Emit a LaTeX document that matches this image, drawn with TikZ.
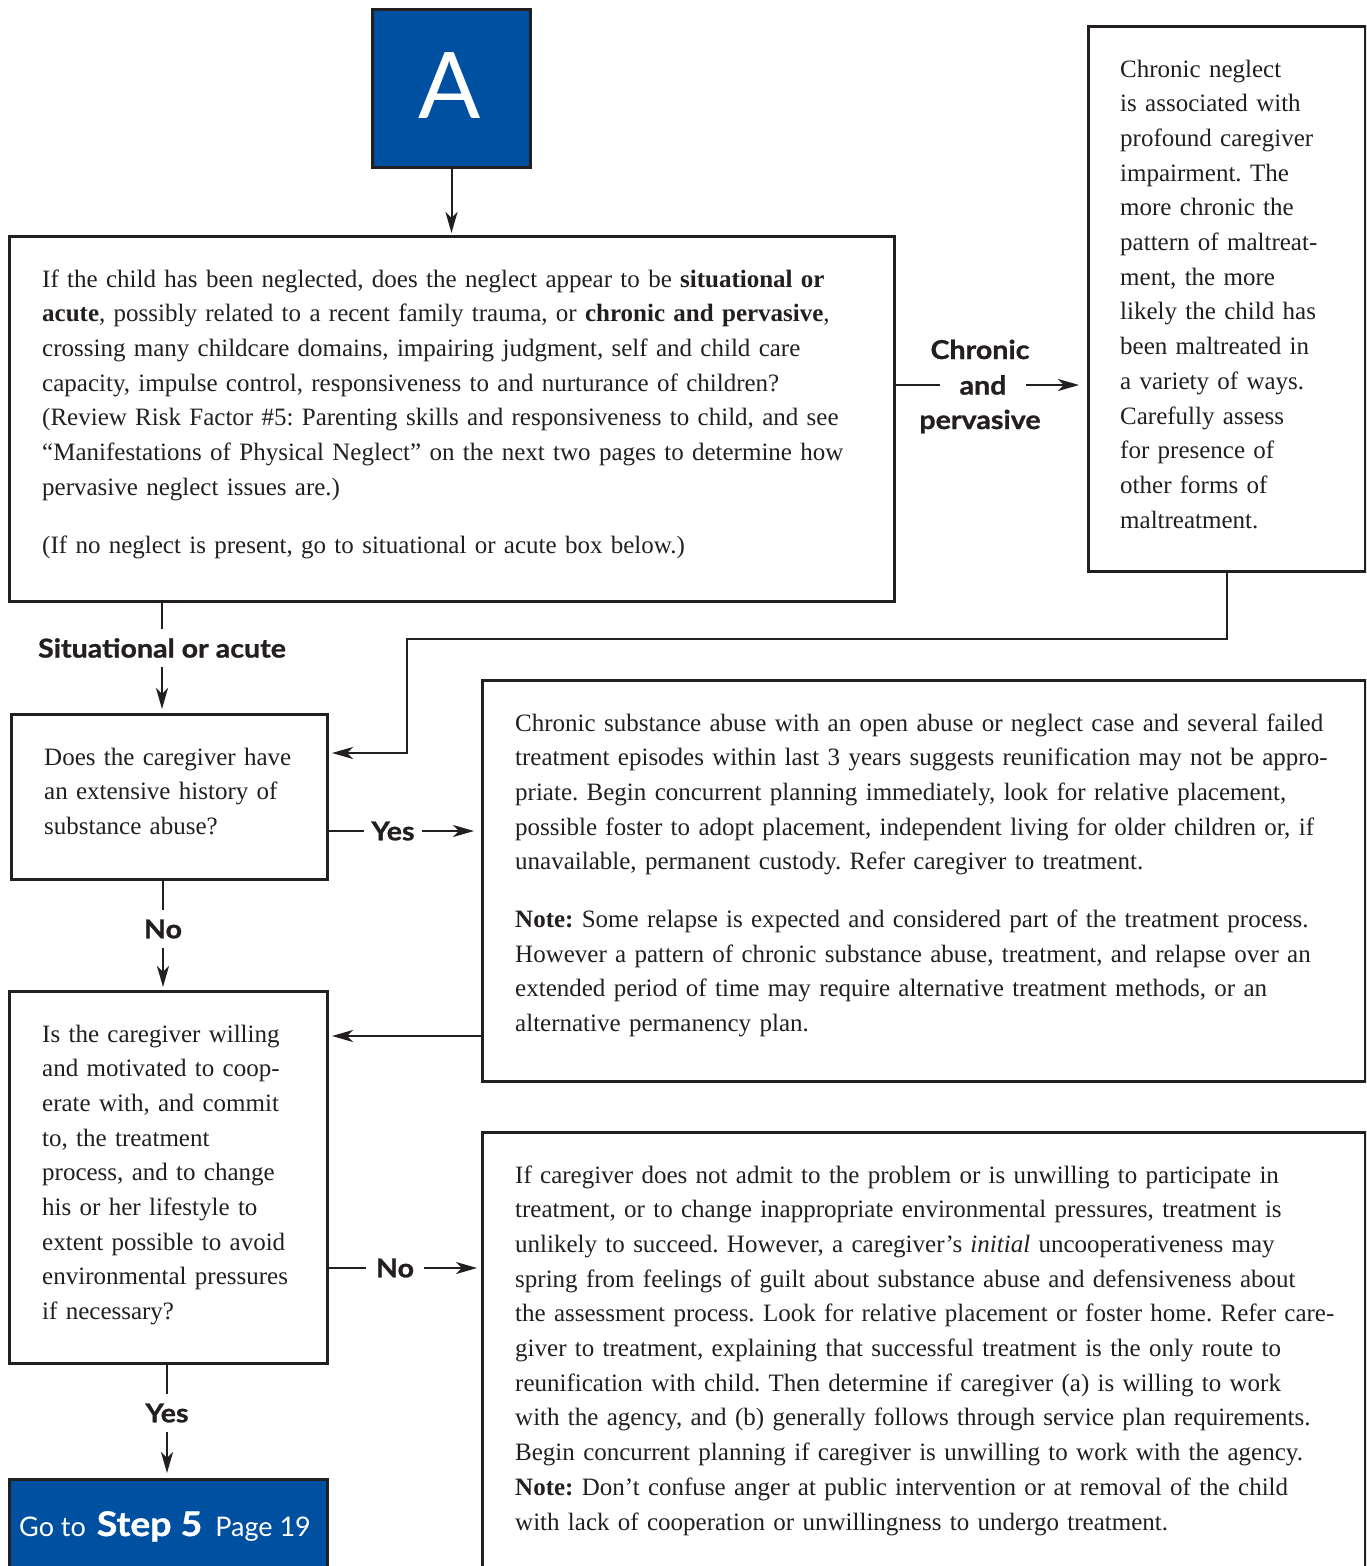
\documentclass[tikz,border=0pt]{standalone}
\usepackage{fontspec}
\setmainfont{Liberation Serif}
\newfontfamily\labelfont[FakeStretch=1.1, BoldFeatures={FakeBold=1}]{Lato}
\newfontfamily\plainsans{Lato}
\usetikzlibrary{arrows.meta}
\definecolor{ink}{RGB}{35,31,32}
\definecolor{stepblue}{RGB}{0,80,162}
\frenchspacing
\begin{document}
\begin{tikzpicture}[x=1pt,y=-1pt,
  box/.style={draw=ink, line width=3pt, rectangle, anchor=north west, inner sep=0pt},
  body/.style={anchor=base west, inner sep=0pt, text width=#1, align=left, text=ink,
    font=\fontsize{25}{34.7}\selectfont},
  lbl/.style={text=ink, font=\labelfont\bfseries\fontsize{26}{35}\selectfont,
    inner xsep=8pt, inner ysep=9pt},
  link/.style={draw=ink, line width=2pt},
  arr/.style={link, -{Stealth[length=21pt,width=12pt,inset=6pt]}},
]
\useasboundingbox (0,0) rectangle (1366,1566);
\clip (0,0) rectangle (1366,1566);
\fill[white] (0,0) rectangle (1366,1566);

% ---- boxes ----
\node[box, fill=stepblue, minimum width=158pt, minimum height=158pt] (A) at (371,8) {};
\node[text=white, font=\plainsans\fontsize{92}{92}\selectfont, anchor=base] (Aletter) at (450,118) {A};

\node[box, minimum width=885pt, minimum height=365pt] (main) at (8,235) {};
\node[box, minimum width=277pt, minimum height=545pt] (chronic) at (1087,25) {};
\node[box, minimum width=316pt, minimum height=165pt] (hist) at (10,713) {};
\node[box, minimum width=883pt, minimum height=401pt] (subst) at (481,679) {};
\node[box, minimum width=318pt, minimum height=372pt] (willing) at (8,990) {};
\node[box, minimum width=883pt, minimum height=500pt] (unwill) at (481,1131) {};
\node[box, fill=stepblue, minimum width=318pt, minimum height=100pt] (goto) at (8,1478) {};

% ---- box texts ----
\node[body=880pt] (mainTxt) at (42,287) {If the child has been neglected, does the neglect appear to be \textbf{situational or}\\
\textbf{acute}, possibly related to a recent family trauma, or \textbf{chronic and pervasive},\\
crossing many childcare domains, impairing judgment, self and child care\\
capacity, impulse control, responsiveness to and nurturance of children?\\
(Review Risk Factor \#5: Parenting skills and responsiveness to child, and see\\
``Manifestations of Physical Neglect'' on the next two pages to determine how\\
pervasive neglect issues are.)\\[24pt]
(If no neglect is present, go to situational or acute box below.)};

\node[body=250pt] (chronicTxt) at (1120,77) {Chronic neglect\\
is associated with\\
profound caregiver\\
impairment. The\\
more chronic the\\
pattern of maltreat-\\
ment, the more\\
likely the child has\\
been maltreated in\\
a variety of ways.\\
Carefully assess\\
for presence of\\
other forms of\\
maltreatment.};

\node[body=290pt] (histTxt) at (44,765) {Does the caregiver have\\
an extensive history of\\
substance abuse?};

\node[body=880pt] (substTxt) at (515,731) {Chronic substance abuse with an open abuse or neglect case and several failed\\
treatment episodes within last 3 years suggests reunification may not be appro-\\
priate. Begin concurrent planning immediately, look for relative placement,\\
possible foster to adopt placement, independent living for older children or, if\\
unavailable, permanent custody. Refer caregiver to treatment.\\[23pt]
\textbf{Note:} Some relapse is expected and considered part of the treatment process.\\
However a pattern of chronic substance abuse, treatment, and relapse over an\\
extended period of time may require alternative treatment methods, or an\\
alternative permanency plan.};

\node[body=290pt] (willingTxt) at (42,1042) {Is the caregiver willing\\
and motivated to coop-\\
erate with, and commit\\
to, the treatment\\
process, and to change\\
his or her lifestyle to\\
extent possible to avoid\\
environmental pressures\\
if necessary?};

\node[body=880pt] (unwillTxt) at (515,1183) {If caregiver does not admit to the problem or is unwilling to participate in\\
treatment, or to change inappropriate environmental pressures, treatment is\\
unlikely to succeed. However, a caregiver's \textit{initial} uncooperativeness may\\
spring from feelings of guilt about substance abuse and defensiveness about\\
the assessment process. Look for relative placement or foster home. Refer care-\\
giver to treatment, explaining that successful treatment is the only route to\\
reunification with child. Then determine if caregiver (a) is willing to work\\
with the agency, and (b) generally follows through service plan requirements.\\
Begin concurrent planning if caregiver is unwilling to work with the agency.\\
\textbf{Note:} Don't confuse anger at public intervention or at removal of the child\\
with lack of cooperation or unwillingness to undergo treatment.};

\node[anchor=base, text=white, inner sep=0pt] (gotoTxt) at (165,1536)
  {\plainsans\fontsize{27}{30}\selectfont Go to\hspace{11pt}{\labelfont\bfseries\fontsize{34}{40}\selectfont Step 5}\hspace{13pt}Page 19};

% ---- connector labels ----
\node[lbl] (sit) at (162,648) {Situational or acute};
\node[lbl, inner xsep=19pt] (chrAnd) at (983,385) {and};
\node[lbl, anchor=base] (chrTop) at (980,359) {Chronic};
\node[lbl, anchor=base] (chrBot) at (980,429) {pervasive};
\node[lbl, inner xsep=7pt] (yes1) at (393,831) {Yes};
\node[lbl] (no1) at (163,929) {No};
\node[lbl, inner xsep=10pt] (no2) at (395,1268) {No};
\node[lbl] (yes2) at (167,1413) {Yes};

\coordinate (bendTop) at (407,639);
\coordinate (bendLow) at (407,753);
\coordinate (backRow) at (0,1036);

% ---- connectors ----
\draw[arr, shorten >=2pt] (A.south) -- (main.north -| A.south);
\draw[link] (main.east |- chrAnd) -- (chrAnd.west);
\draw[arr, shorten >=8pt] (chrAnd.east) -- (chronic.west |- chrAnd);
\draw[link] (main.south -| sit) -- (sit.north);
\draw[arr, shorten >=4pt] (sit.south) -- (hist.north -| sit);
\draw[arr, shorten >=3pt] (chronic.south) |- (bendTop) -- (bendLow) -- (hist.east |- bendLow);
\draw[link] (hist.east |- yes1) -- (yes1.west);
\draw[arr, shorten >=7pt] (yes1.east) -- (subst.west |- yes1);
\draw[link] (hist.south -| no1) -- (no1.north);
\draw[arr, shorten >=3pt] (no1.south) -- (willing.north -| no1);
\draw[arr, shorten >=3pt] (subst.west |- backRow) -- (willing.east |- backRow);
\draw[link] (willing.east |- no2) -- (no2.west);
\draw[arr, shorten >=4pt] (no2.east) -- (unwill.west |- no2);
\draw[link] (willing.south -| yes2) -- (yes2.north);
\draw[arr, shorten >=5pt] (yes2.south) -- (goto.north -| yes2);
\end{tikzpicture}
\end{document}
